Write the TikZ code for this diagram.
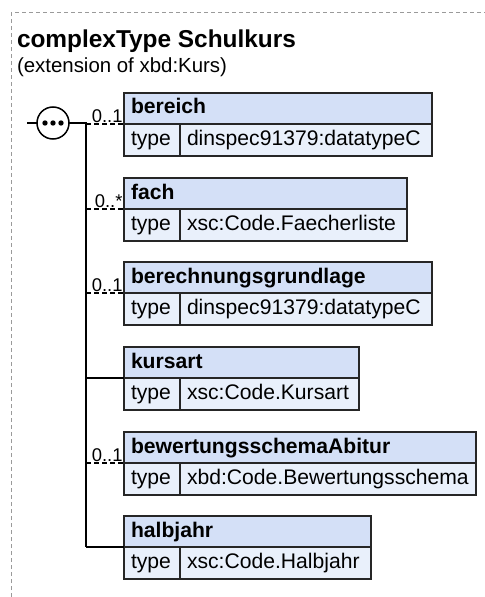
\documentclass[tikz,border=0pt]{standalone}
\usepackage{fontspec}
\setmainfont{Liberation Sans}

\definecolor{headfill}{HTML}{D4E0F7}
\definecolor{typefill}{HTML}{E9F0FB}
\definecolor{framegray}{HTML}{9A9A9A}

\newcommand\titlefont{\fontsize{24.5}{28}\selectfont\bfseries}
\newcommand\subfont{\fontsize{20.5}{24}\selectfont}
\newcommand\boxfont{\fontsize{21.2}{24}\selectfont}
\newcommand\multfont{\fontsize{18.5}{21}\selectfont}

\begin{document}
\begin{tikzpicture}[x=1bp,y=-1bp,
    every node/.style={inner sep=0pt,outer sep=0pt},
    cell/.style={draw=black!85,line width=1.5bp,anchor=north west,
      inner xsep=7bp,align=left,text height=15bp,text depth=4bp},
    head/.style={cell,fill=headfill,minimum height=31bp,text width=#1,
      font=\boxfont\bfseries},
    typecell/.style={cell,fill=typefill,minimum height=32bp,text width=42bp,
      font=\boxfont},
    valcell/.style={cell,fill=typefill,minimum height=32bp,text width=#1,
      font=\boxfont},
    mult/.style={anchor=south east,inner sep=1.5bp,font=\multfont},
    wire/.style={line width=1.5bp},
    opt/.style={dash pattern=on 4.5bp off 3.5bp}]

  \useasboundingbox (0,0) rectangle (485,597);

  % frame and heading
  \draw[framegray,line width=1bp,dash pattern=on 4bp off 3bp]
    (11,597) -- (11,13) -- (485,13);
  \node[anchor=base west,font=\titlefont] (title) at (17,48) {complexType Schulkurs};
  \node[anchor=base west,font=\subfont] (base) at (17,73) {(extension of xbd:Kurs)};

  % elements
  \node[head=294bp] (bereich) at (124,93) {bereich};
  \node[typecell] (bereich-type) at (bereich.south west) {type};
  \node[valcell=238bp] (bereich-val) at (bereich-type.north east) {dinspec91379:datatypeC};

  \node[head=269bp] (fach) at (124,178) {fach};
  \node[typecell] (fach-type) at (fach.south west) {type};
  \node[valcell=213bp] (fach-val) at (fach-type.north east) {xsc:Code.Faecherliste};

  \node[head=294bp] (berechnung) at (124,262) {berechnungsgrundlage};
  \node[typecell] (berechnung-type) at (berechnung.south west) {type};
  \node[valcell=238bp] (berechnung-val) at (berechnung-type.north east) {dinspec91379:datatypeC};

  \node[head=221bp] (kursart) at (124,347) {kursart};
  \node[typecell] (kursart-type) at (kursart.south west) {type};
  \node[valcell=165bp] (kursart-val) at (kursart-type.north east) {xsc:Code.Kursart};

  \node[head=338bp] (bewertung) at (124,432) {bewertungsschemaAbitur};
  \node[typecell] (bewertung-type) at (bewertung.south west) {type};
  \node[valcell=282bp] (bewertung-val) at (bewertung-type.north east) {xbd:Code.Bewertungsschema};

  \node[head=233bp] (halbjahr) at (124,516) {halbjahr};
  \node[typecell] (halbjahr-type) at (halbjahr.south west) {type};
  \node[valcell=177bp] (halbjahr-val) at (halbjahr-type.north east) {xsc:Code.Halbjahr};

  % sequence compositor
  \coordinate (in) at (27,123);
  \coordinate (spine) at (86,123);
  \node[circle,draw,fill=white,line width=1.5bp,minimum size=32bp] (seq) at (53,123) {};
  \foreach \dx in {-8,0,8}
    \fill ([xshift=\dx bp]seq.center) circle (2.7bp);

  \draw[wire] (in) -- (seq) -- (spine) -- (spine |- halbjahr.south west);

  \path (spine |- bereich.south west) edge[wire,opt] node[mult,pos=1] {0..1} (bereich.south west);
  \path (spine |- fach.south west) edge[wire,opt] node[mult,pos=1] {0..*} (fach.south west);
  \path (spine |- berechnung.south west) edge[wire,opt] node[mult,pos=1] {0..1} (berechnung.south west);
  \path (spine |- kursart.south west) edge[wire] (kursart.south west);
  \path (spine |- bewertung.south west) edge[wire,opt] node[mult,pos=1] {0..1} (bewertung.south west);
  \path (spine |- halbjahr.south west) edge[wire] (halbjahr.south west);

\end{tikzpicture}
\end{document}
